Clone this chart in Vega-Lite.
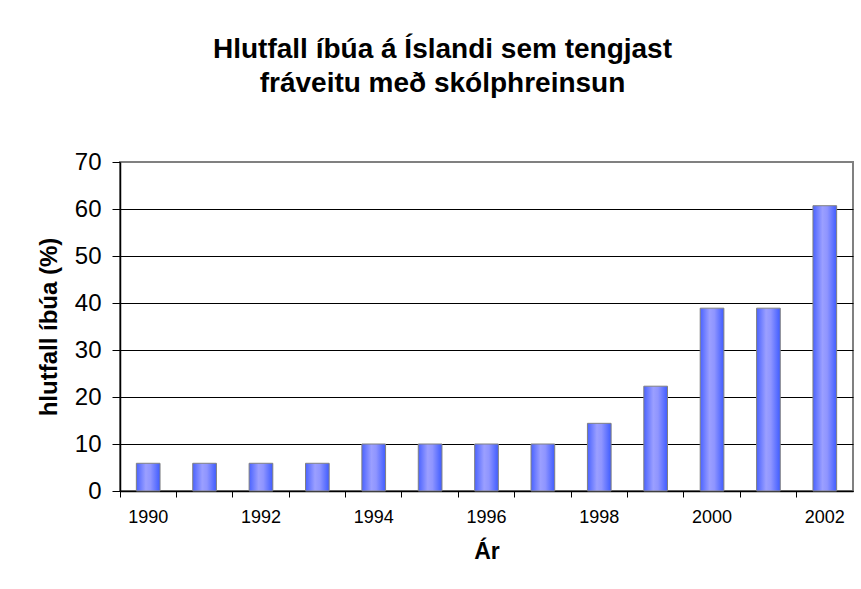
{
  "$schema": "https://vega.github.io/schema/vega-lite/v6.json",
  "width": 733,
  "height": 329,
  "autosize": "none",
  "padding": {"left": 120, "top": 162, "right": 8, "bottom": 98},
  "background": "white",
  "title": {
    "text": ["Hlutfall íbúa á Íslandi sem tengjast", "fráveitu með skólphreinsun"],
    "font": "Liberation Sans",
    "fontSize": 28,
    "fontWeight": "bold",
    "color": "black",
    "anchor": "middle",
    "frame": "group",
    "baseline": "alphabetic",
    "lineHeight": 34,
    "dx": -44,
    "offset": 30
  },
  "data": {
    "values": [
      {"year": 1990, "value": 5.9},
      {"year": 1991, "value": 5.9},
      {"year": 1992, "value": 5.9},
      {"year": 1993, "value": 5.9},
      {"year": 1994, "value": 10},
      {"year": 1995, "value": 10},
      {"year": 1996, "value": 10},
      {"year": 1997, "value": 10},
      {"year": 1998, "value": 14.4},
      {"year": 1999, "value": 22.3},
      {"year": 2000, "value": 38.9},
      {"year": 2001, "value": 38.9},
      {"year": 2002, "value": 60.7}
    ]
  },
  "mark": {
    "type": "bar",
    "width": {"band": 0.42},
    "stroke": "#808080",
    "strokeWidth": 1,
    "color": {
      "gradient": "linear",
      "x1": 0, "y1": 0, "x2": 1, "y2": 0,
      "stops": [
        {"offset": 0, "color": "#4a63ff"},
        {"offset": 0.4, "color": "#9b9fff"},
        {"offset": 0.6, "color": "#8f95ff"},
        {"offset": 1, "color": "#3f5cff"}
      ]
    }
  },
  "encoding": {
    "x": {
      "field": "year",
      "type": "ordinal",
      "scale": {"paddingInner": 0, "paddingOuter": 0},
      "axis": {
        "title": "Ár",
        "titleFont": "Liberation Sans",
        "titleFontSize": 23,
        "titleFontWeight": "bold",
        "titleColor": "black",
        "titlePadding": 14,
        "labelFont": "Liberation Sans",
        "labelFontSize": 18,
        "labelColor": "black",
        "labelAngle": 0,
        "labelPadding": 11,
        "labelOverlap": false,
        "labelExpr": "datum.value % 2 == 0 ? datum.label : ''",
        "bandPosition": 0,
        "tickSize": 6,
        "tickColor": "black",
        "domainColor": "black",
        "domainWidth": 1.5,
        "grid": false
      }
    },
    "y": {
      "field": "value",
      "type": "quantitative",
      "scale": {"domain": [0, 70], "nice": false},
      "axis": {
        "values": [0, 10, 20, 30, 40, 50, 60, 70],
        "title": "hlutfall íbúa (%)",
        "titleFont": "Liberation Sans",
        "titleFontSize": 24,
        "titleFontWeight": "bold",
        "titleColor": "black",
        "titlePadding": 13,
        "labelFont": "Liberation Sans",
        "labelFontSize": 24,
        "labelColor": "black",
        "labelPadding": 11,
        "tickSize": 8,
        "tickColor": "black",
        "domainColor": "black",
        "domainWidth": 1.5,
        "grid": true,
        "gridColor": {"condition": {"test": "datum.value === 70", "value": "#808080"}, "value": "black"},
        "gridWidth": 1,
        "gridOpacity": 1
      }
    }
  },
  "config": {
    "view": {"stroke": "#808080", "strokeWidth": 2, "fill": "white"}
  }
}
